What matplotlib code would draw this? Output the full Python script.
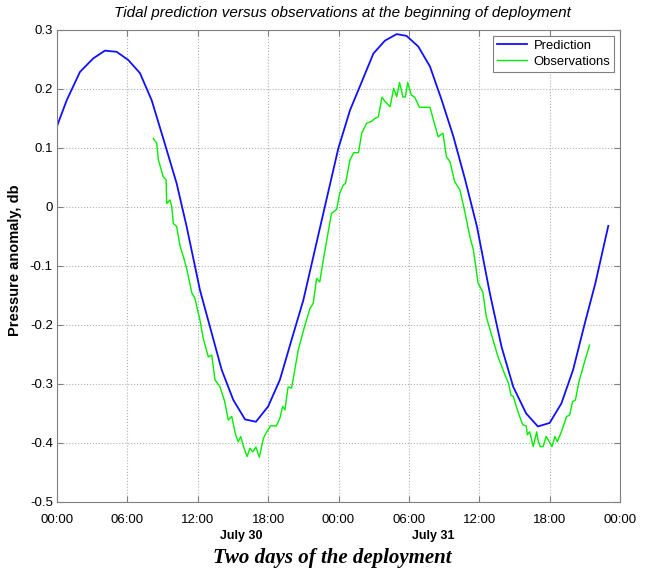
import matplotlib
matplotlib.use("Agg")
import matplotlib.pyplot as plt
import matplotlib.transforms as mtransforms

# hours from 00:00 on the first day
pred_hours = [0, 0.83, 1.96, 3.1, 4.09, 5.09, 6.08, 7.07, 8.07, 9.06, 10.2, 11.05,
              12.19, 13.04, 14.04, 15.03, 16.03, 16.96, 18.0, 19.0, 20.0, 21.0, 22.7,
              23.98, 24.98, 25.98, 26.97, 27.96, 28.96, 29.8, 30.8, 31.8, 32.8, 33.8,
              34.8, 35.8, 36.9, 37.9, 38.9, 40.0, 41.0, 42.0, 43.0, 44.0, 45.0, 45.9, 47.0]
pred_vals = [0.137, 0.181, 0.229, 0.252, 0.265, 0.263, 0.249, 0.227, 0.181, 0.116, 0.040,
             -0.033, -0.141, -0.203, -0.276, -0.327, -0.360, -0.364, -0.338, -0.293,
             -0.225, -0.158, -0.011, 0.099, 0.164, 0.212, 0.260, 0.282, 0.293, 0.290,
             0.272, 0.238, 0.181, 0.119, 0.046, -0.033, -0.146, -0.237, -0.305, -0.350,
             -0.372, -0.366, -0.333, -0.276, -0.197, -0.129, -0.032]

obs_hours = [8.21, 8.5, 8.64, 9.06, 9.3, 9.35, 9.63, 9.78, 9.92, 10.2, 10.5, 10.77, 11.05,
             11.5, 11.76, 12.19, 12.47, 12.9, 13.19, 13.47, 13.9, 14.3, 14.6, 14.9, 15.2,
             15.45, 15.66, 15.9, 16.2, 16.45, 16.7, 16.96, 17.25, 17.6, 17.8, 18.2, 18.7,
             19.0, 19.24, 19.43, 19.7, 20.0, 20.57, 21.1, 21.57, 21.85, 22.13, 22.4, 22.7,
             23.0, 23.4, 23.84, 24.1, 24.4, 24.6, 24.98, 25.3, 25.7, 25.98, 26.4, 26.8,
             27.1, 27.4, 27.7, 27.96, 28.4, 28.7, 28.96, 29.2, 29.5, 29.7, 29.9, 30.2,
             30.5, 30.9, 31.8, 32.1, 32.5, 32.9, 33.2, 33.5, 33.9, 34.35, 34.8, 35.2,
             35.5, 35.9, 36.3, 36.6, 37.05, 37.6, 38.2, 38.5, 38.7, 38.9, 39.3, 39.7,
             40.0, 40.1, 40.3, 40.6, 40.9, 41.0, 41.2, 41.45, 41.7, 41.97, 42.2, 42.45,
             42.65, 43.0, 43.45, 43.7, 43.95, 44.2, 44.5, 44.9, 45.4]
obs_vals = [0.116, 0.108, 0.080, 0.051, 0.046, 0.006, 0.012, 0.001, -0.028, -0.033, -0.067,
            -0.084, -0.104, -0.146, -0.155, -0.192, -0.223, -0.254, -0.251, -0.293, -0.305,
            -0.330, -0.361, -0.355, -0.384, -0.398, -0.389, -0.406, -0.423, -0.409, -0.415,
            -0.407, -0.424, -0.392, -0.384, -0.371, -0.371, -0.358, -0.338, -0.344, -0.305,
            -0.307, -0.242, -0.203, -0.172, -0.163, -0.121, -0.127, -0.090, -0.056, -0.011,
            -0.004, 0.023, 0.037, 0.040, 0.080, 0.092, 0.092, 0.125, 0.142, 0.145, 0.150,
            0.153, 0.186, 0.179, 0.170, 0.201, 0.187, 0.211, 0.186, 0.187, 0.211, 0.190,
            0.186, 0.169, 0.169, 0.147, 0.119, 0.125, 0.085, 0.077, 0.043, 0.029, -0.011,
            -0.050, -0.073, -0.129, -0.144, -0.186, -0.217, -0.254, -0.285, -0.299, -0.319,
            -0.321, -0.347, -0.369, -0.371, -0.386, -0.381, -0.406, -0.381, -0.395, -0.406,
            -0.406, -0.389, -0.398, -0.406, -0.389, -0.398, -0.381, -0.355, -0.353, -0.330,
            -0.327, -0.296, -0.268, -0.234]

tick_hours = [0, 6, 12, 18, 24, 30, 36, 42, 48]
tick_labels = ["00:00", "06:00", "12:00", "18:00", "00:00", "06:00", "12:00", "18:00", "00:00"]
day_labels = ["July 30", "July 31"]
day_pos = [15.7, 32.05]

plt.rcParams["font.family"] = ["Liberation Sans", "DejaVu Sans"]

fig = plt.figure(figsize=(6.47, 5.70), dpi=100)
ax = fig.add_axes([0.0881, 0.1193, 0.8702, 0.8281])

ax.plot(pred_hours, pred_vals, color="#1010ff", lw=1.3, label="Prediction")
ax.plot(obs_hours, obs_vals, color="#00ee00", lw=1.0, label="Observations")

ax.set_xlim(0, 48)
ax.set_ylim(-0.5, 0.3)
ax.set_xticks(tick_hours)
ax.set_xticklabels(tick_labels)
ax.set_yticks([-0.5, -0.4, -0.3, -0.2, -0.1, 0, 0.1, 0.2, 0.3])
ax.set_yticklabels(["-0.5", "-0.4", "-0.3", "-0.2", "-0.1", "0", "0.1", "0.2", "0.3"])
ax.tick_params(direction="in", top=True, right=True, length=4, labelsize=9.5,
               color="#808080", pad=3)
ax.tick_params(axis="x", pad=9)
ax.grid(True, linestyle=":", color="#b0b0b0", lw=0.8)
for s in ax.spines.values():
    s.set_color("#808080")

ax.set_ylabel("Pressure anomaly, db", fontsize=10.5, fontweight="bold")
ax.yaxis.set_label_coords(-0.062, 0.513)

trans = mtransforms.blended_transform_factory(ax.transData, ax.transAxes)
for p, lab in zip(day_pos, day_labels):
    ax.text(p, -0.072, lab, transform=trans, ha="center", va="center",
            fontsize=9, fontweight="bold")

leg = ax.legend(loc="upper right", fontsize=9.4, fancybox=False, framealpha=1,
                edgecolor="#808080", borderaxespad=0.45, handlelength=2.3,
                handletextpad=0.5, borderpad=0.3, labelspacing=0.3)
leg.get_frame().set_linewidth(0.8)

fig.text(0.530, 0.977, "Tidal prediction versus observations at the beginning of deployment",
         ha="center", va="center", fontsize=11, style="italic")
fig.text(0.513, 0.0125, "Two days of the deployment", ha="center", va="baseline",
         fontsize=15, style="italic", fontweight="bold", family="Liberation Serif")

fig.savefig("out.png", dpi=100)
